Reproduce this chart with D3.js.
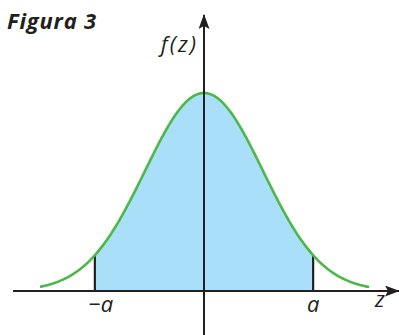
<!DOCTYPE html>
<html lang="pt">
<head>
<meta charset="UTF-8">
<title>Figura 3</title>
<script src="https://d3js.org/d3.v7.min.js"></script>
<style>
  body { margin: 0; background: #fff; }
  .lbl { font-family: "Open Sans", "DejaVu Sans", sans-serif; font-style: italic; fill: #231f20; }
</style>
</head>
<body>
<svg id="chart" width="399" height="335"></svg>
<script>
// z range drawn by the curve and the value of a
const curveRange = [-2.78, 2.8];
const aValue = 1.85;
const tickLabels = ["\u2212a", "a"];
const axisLabels = ["f(z)", "z"];
const title = "Figura 3";

const svg = d3.select("#chart");

const x = d3.scaleLinear().domain([-3, 3]).range([27, 381]);
const y = d3.scaleLinear().domain([0, 1 / Math.sqrt(2 * Math.PI)]).range([291, 93]);

const pdf = z => Math.exp(-z * z / 2) / Math.sqrt(2 * Math.PI);

const curvePts = d3.range(curveRange[0], curveRange[1] + 0.001, 0.02).map(z => [z, pdf(z)]);
const areaPts = d3.range(-aValue, aValue + 0.001, 0.02).map(z => [z, pdf(z)]);
areaPts.push([aValue, pdf(aValue)]);

// shaded area
svg.append("path")
  .datum(areaPts)
  .attr("fill", "#aadff9")
  .attr("d", d3.area().x(d => x(d[0])).y0(y(0)).y1(d => y(d[1])));

// arrow marker
svg.append("defs").append("marker")
  .attr("id", "arr")
  .attr("viewBox", "0 0 15 11")
  .attr("refX", 14).attr("refY", 5.5)
  .attr("markerWidth", 15).attr("markerHeight", 11)
  .attr("markerUnits", "userSpaceOnUse")
  .attr("orient", "auto")
  .append("path")
  .attr("d", "M0,0 L15,5.5 L0,11 L3,5.5 Z")
  .attr("fill", "#231f20");

// bounds at -a and a
[-aValue, aValue].forEach(v => {
  svg.append("line")
    .attr("x1", x(v)).attr("x2", x(v))
    .attr("y1", y(0)).attr("y2", y(pdf(v)))
    .attr("stroke", "#231f20").attr("stroke-width", 2.2);
});

// curve
svg.append("path")
  .datum(curvePts)
  .attr("fill", "none")
  .attr("stroke", "#4db848")
  .attr("stroke-width", 2.6)
  .attr("d", d3.line().x(d => x(d[0])).y(d => y(d[1])));

// x axis
svg.append("line")
  .attr("x1", 13).attr("x2", 399)
  .attr("y1", y(0)).attr("y2", y(0))
  .attr("stroke", "#231f20").attr("stroke-width", 2)
  .attr("marker-end", "url(#arr)");

// y axis
svg.append("line")
  .attr("x1", x(0)).attr("x2", x(0))
  .attr("y1", 335).attr("y2", 15)
  .attr("stroke", "#231f20").attr("stroke-width", 2)
  .attr("marker-end", "url(#arr)");

// labels
svg.append("text").attr("class", "lbl")
  .attr("x", 7).attr("y", 29)
  .style("font-weight", "bold").style("font-size", "22px")
  .style("letter-spacing", "0.8px")
  .text(title);

svg.append("text").attr("class", "lbl")
  .attr("x", x(0) - 6).attr("y", 52)
  .attr("text-anchor", "end")
  .style("font-size", "22px")
  .style("letter-spacing", "2px")
  .text(axisLabels[0]);

svg.append("text").attr("class", "lbl")
  .attr("x", 380).attr("y", 307)
  .attr("text-anchor", "middle")
  .style("font-size", "22px")
  .text(axisLabels[1]);

[-aValue, aValue].forEach((v, i) => {
  svg.append("text").attr("class", "lbl")
    .attr("x", x(v) + (i === 0 ? 6 : 0)).attr("y", 312)
    .attr("text-anchor", "middle")
    .style("font-size", "22px")
    .text(tickLabels[i]);
});
</script>
</body>
</html>
